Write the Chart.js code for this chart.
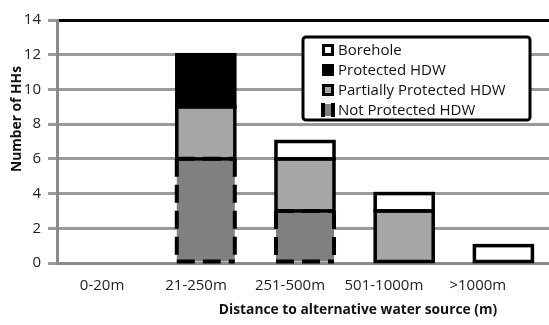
<!DOCTYPE html>
<html>
<head>
<meta charset="utf-8">
<script src="https://cdn.jsdelivr.net/npm/chart.js@4"></script>
<style>
  html, body { margin: 0; padding: 0; overflow: hidden; background: #fff; }
  #wrap { width: 556px; height: 325px; }
</style>
</head>
<body>
<div id="wrap"><canvas id="c" width="556" height="325"></canvas></div>
<script>
// Households by distance to their alternative water source
const categories = ['0-20m', '21-250m', '251-500m', '501-1000m', '>1000m'];
const notProtectedHDW = [0, 6, 3, 0, 0];
const partiallyProtectedHDW = [0, 3, 3, 3, 0];
const protectedHDW = [0, 3, 0, 0, 0];
const borehole = [0, 0, 1, 1, 1];
const yTicks = [0, 2, 4, 6, 8, 10, 12, 14];

const FONT = "'Open Sans', 'DejaVu Sans', sans-serif";
const asBars = arr => arr.map(v => (v === 0 ? null : v));

// Segment outlines stroked on the bar edges, series by series (dashed where flagged)
const segmentOutlines = {
  id: 'segmentOutlines',
  afterDatasetsDraw(chart) {
    const ctx = chart.ctx;
    chart.data.datasets.forEach((ds, i) => {
      chart.getDatasetMeta(i).data.forEach(el => {
        const p = el.getProps(['x', 'y', 'base', 'width'], true);
        if (p.y == null || isNaN(p.y) || Math.abs(p.base - p.y) < 0.5) return;
        const left = p.x - p.width / 2, right = p.x + p.width / 2;
        const top = Math.min(p.y, p.base), bottom = Math.max(p.y, p.base);
        ctx.save();
        ctx.strokeStyle = '#000';
        if (ds.dashedOutline) {
          ctx.lineWidth = 4;
          ctx.setLineDash([18, 8]);
          ctx.beginPath();
          ctx.moveTo(left, top); ctx.lineTo(left, bottom);
          ctx.moveTo(right, top); ctx.lineTo(right, bottom);
          ctx.moveTo(left, bottom); ctx.lineTo(right, bottom);
          ctx.moveTo(left, top); ctx.lineTo(right, top);
          ctx.stroke();
        } else {
          ctx.lineWidth = 3.5;
          ctx.lineJoin = 'miter';
          ctx.strokeRect(left, top, right - left, bottom - top);
        }
        ctx.restore();
      });
    });
  }
};

// Boxed legend inside the plot, listed top of stack first
const boxedLegend = {
  id: 'boxedLegend',
  afterDraw(chart) {
    const ctx = chart.ctx;
    const area = chart.chartArea;
    const bx = area.right - 250, by = area.top + 17, bw = 227, bh = 83;
    ctx.save();
    ctx.fillStyle = '#fff';
    ctx.strokeStyle = '#000';
    ctx.lineWidth = 3;
    ctx.beginPath();
    ctx.roundRect(bx, by, bw, bh, 3);
    ctx.fill();
    ctx.stroke();
    const items = chart.data.datasets.slice().reverse();
    ctx.font = '15px ' + FONT;
    ctx.textBaseline = 'middle';
    items.forEach((ds, k) => {
      const cy = by + 13 + k * 20;
      const mx = bx + 19, ms = 12;
      ctx.fillStyle = ds.backgroundColor;
      ctx.fillRect(mx, cy - ms / 2, ms, ms);
      if (ds.dashedOutline) {
        ctx.fillStyle = '#000';
        ctx.fillRect(mx - 1, cy - ms / 2 - 1, 4, ms + 2);
        ctx.fillRect(mx + ms - 3, cy - ms / 2 - 1, 4, ms + 2);
      } else {
        ctx.strokeStyle = '#000';
        ctx.lineWidth = 3;
        ctx.strokeRect(mx + 1.5, cy - ms / 2 + 1.5, ms - 3, ms - 3);
      }
      ctx.fillStyle = '#111';
      ctx.fillText(ds.label, mx + 16, cy + 1);
    });
    ctx.restore();
  }
};

// Axis titles
const axisTitles = {
  id: 'axisTitles',
  afterDraw(chart) {
    const ctx = chart.ctx;
    const area = chart.chartArea;
    ctx.save();
    ctx.fillStyle = '#111';
    ctx.font = 'bold 13.8px ' + FONT;
    ctx.textAlign = 'center';
    ctx.textBaseline = 'middle';
    ctx.fillText('Distance to alternative water source (m)', area.left + 301, 310);
    ctx.translate(17.5, area.top + 99);
    ctx.rotate(-Math.PI / 2);
    ctx.fillText('Number of HHs', 0, 0);
    ctx.restore();
  }
};

const common = { borderWidth: 0, categoryPercentage: 0.585, barPercentage: 1 };

new Chart(document.getElementById('c'), {
  type: 'bar',
  data: {
    labels: categories,
    datasets: [
      { label: 'Not Protected HDW', data: asBars(notProtectedHDW), backgroundColor: '#808080', dashedOutline: true, ...common },
      { label: 'Partially Protected HDW', data: asBars(partiallyProtectedHDW), backgroundColor: '#a6a6a6', ...common },
      { label: 'Protected HDW', data: asBars(protectedHDW), backgroundColor: '#000000', ...common },
      { label: 'Borehole', data: asBars(borehole), backgroundColor: '#ffffff', ...common }
    ]
  },
  options: {
    responsive: false,
    animation: false,
    devicePixelRatio: 1,
    layout: { padding: { top: 20, right: 3, left: 0, bottom: 0 } },
    plugins: { legend: { display: false }, tooltip: { enabled: false } },
    scales: {
      x: {
        stacked: true,
        grid: { display: false, drawTicks: false },
        border: { color: '#8a8a8a', width: 3 },
        ticks: { display: false },
        afterFit: s => { s.height = 0; }
      },
      // category names, set on a slightly tighter pitch than the bars
      xNames: {
        type: 'linear',
        position: 'bottom',
        offset: false,
        min: -0.48,
        max: 4.8,
        grid: { display: false, drawTicks: false, offset: false },
        border: { display: false },
        afterBuildTicks: s => { s.ticks = categories.map((_, i) => ({ value: i })); },
        ticks: {
          autoSkip: false,
          maxRotation: 0,
          color: '#222',
          font: { family: FONT, size: 15 },
          padding: 14,
          callback: (v, i) => categories[i]
        },
        afterFit: s => { s.height = 62; }
      },
      y: {
        stacked: true,
        min: 0,
        max: 14,
        afterBuildTicks: s => { s.ticks = yTicks.map(v => ({ value: v })); },
        ticks: { color: '#222', font: { family: FONT, size: 15 }, padding: 7 },
        grid: {
          color: c => (c.tick && c.tick.value === 14 ? '#000' : '#9a9a9a'),
          lineWidth: 3,
          tickLength: 9,
          tickColor: '#9a9a9a'
        },
        border: { color: '#8a8a8a', width: 3 },
        afterFit: s => { s.width = 57; }
      }
    }
  },
  plugins: [segmentOutlines, boxedLegend, axisTitles]
});
</script>
</body>
</html>
